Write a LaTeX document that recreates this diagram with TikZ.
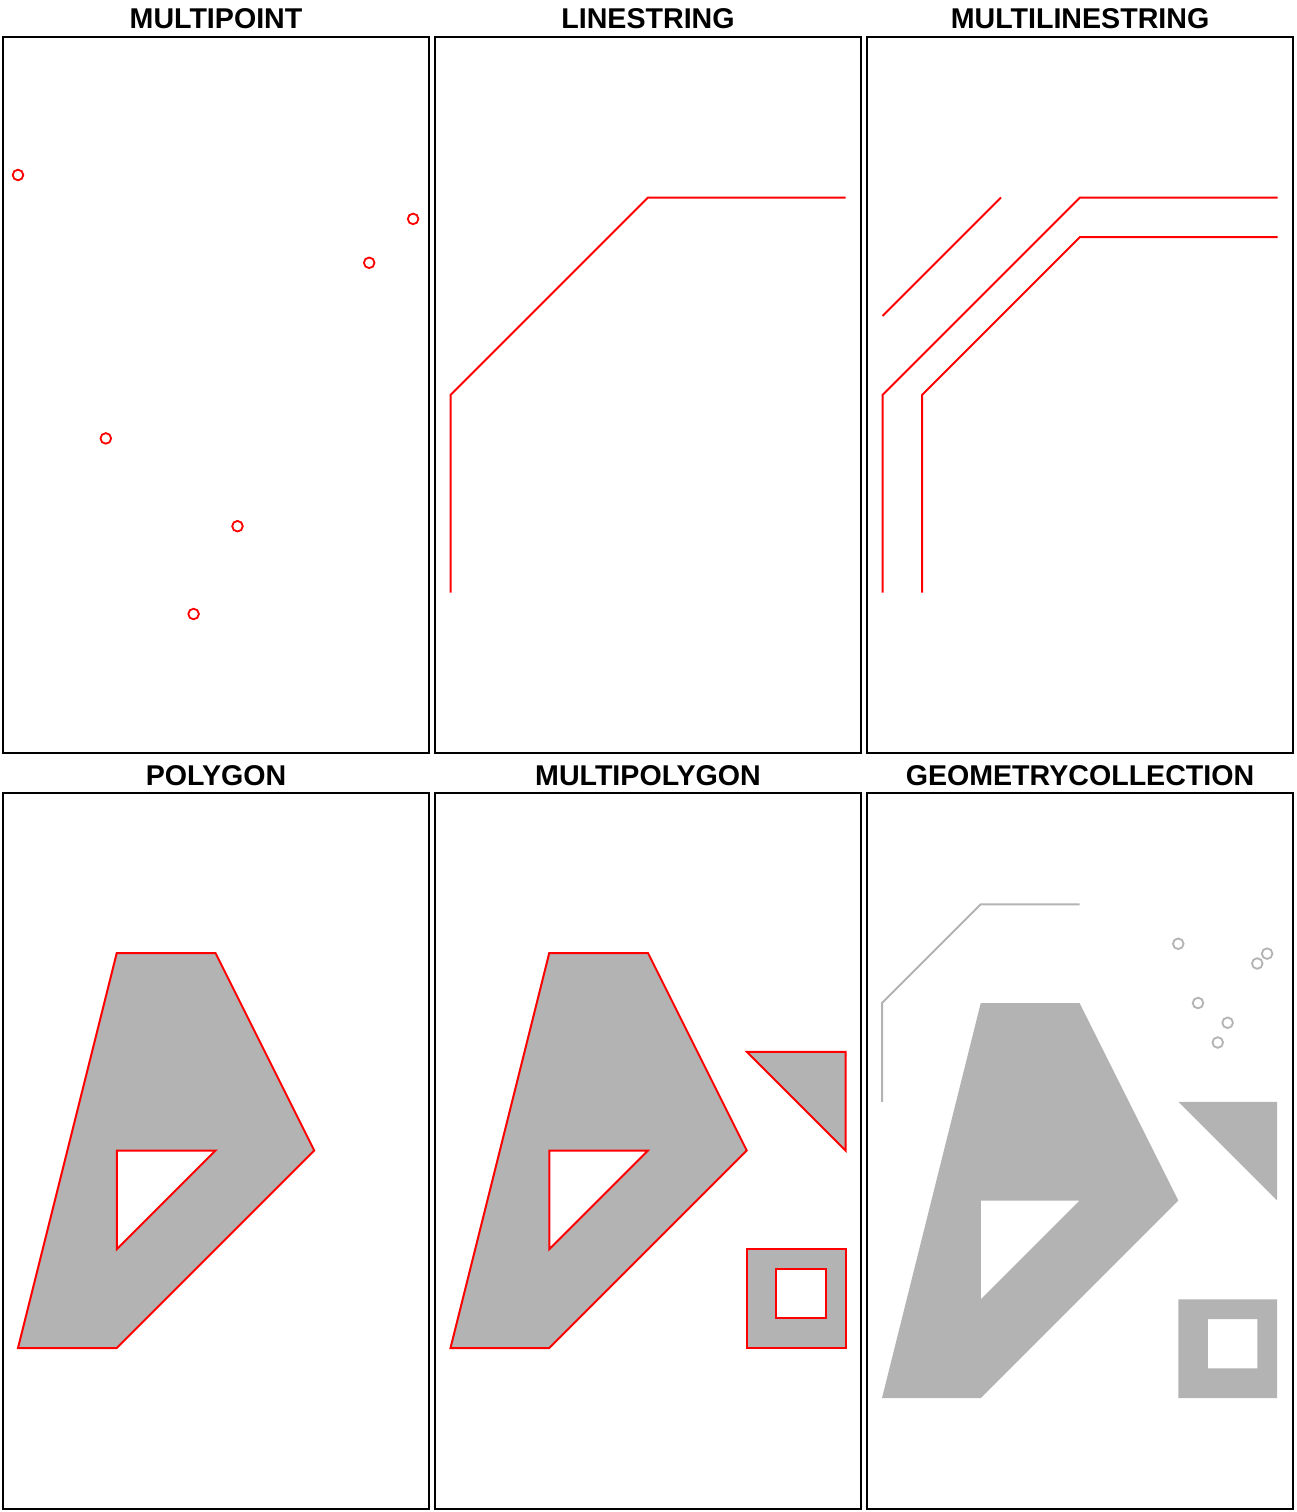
\documentclass[tikz,border=0pt]{standalone}
\usepackage{fontspec}
\setmainfont{Liberation Sans}
\definecolor{gseventy}{RGB}{179,179,179}
\begin{document}
\begin{tikzpicture}[x=1pt,y=-1pt,
  frame/.style={draw=black,line width=2pt},
  paneltitle/.style={font=\fontsize{28.6}{32}\selectfont\bfseries,anchor=base,inner sep=0pt},
  redline/.style={draw=red,line width=2pt,line join=miter},
  greyline/.style={draw=gseventy,line width=2pt},
  redpt/.style={draw=red,line width=1.8pt},
  greypt/.style={draw=gseventy,line width=1.8pt},
  redpoly/.style={draw=red,fill=gseventy,line width=2pt,even odd rule},
  greypoly/.style={fill=gseventy,even odd rule}]
\useasboundingbox (0,0) rectangle (1296,1512);
\fill[white] (0,0) rectangle (1296,1512);

% titles
\node[paneltitle] (t1) at (216,29) {MULTIPOINT};
\node[paneltitle] (t2) at (648,29) {LINESTRING};
\node[paneltitle] (t3) at (1080,29) {MULTILINESTRING};
\node[paneltitle] (t4) at (216,785) {POLYGON};
\node[paneltitle] (t5) at (648,785) {MULTIPOLYGON};
\node[paneltitle] (t6) at (1080,785) {GEOMETRYCOLLECTION};

% frames
\draw[frame] (3,37) rectangle (429,753);
\draw[frame] (435,37) rectangle (861,753);
\draw[frame] (867,37) rectangle (1293,753);
\draw[frame] (3,793) rectangle (429,1509);
\draw[frame] (435,793) rectangle (861,1509);
\draw[frame] (867,793) rectangle (1293,1509);

% MULTIPOINT
\foreach \px/\py in {105.8/438.4, 18/175, 369.2/262.8, 237.5/526.2, 193.6/614, 413.1/218.9}
  \draw[redpt] (\px,\py) circle[radius=5.3pt];

% LINESTRING
\draw[redline] (450.5,592.5) -- (450.5,395) -- (648,197.5) -- (845.5,197.5);

% MULTILINESTRING
\draw[redline] (882.5,592.5) -- (882.5,395) -- (1080,197.5) -- (1277.5,197.5);
\draw[redline] (922,592.5) -- (922,395) -- (1080,237) -- (1277.5,237);
\draw[redline] (882.5,316) -- (1001,197.5);

% POLYGON
\begin{scope}[shift={(18,1348)},x=98.75pt,y=98.75pt]
  \draw[redpoly] (0,0) -- (1,0) -- (3,2) -- (2,4) -- (1,4) -- cycle
                 (1,1) -- (1,2) -- (2,2) -- cycle;
\end{scope}

% MULTIPOLYGON
\begin{scope}[shift={(450.5,1348)},x=98.75pt,y=98.75pt]
  \draw[redpoly] (0,0) -- (1,0) -- (3,2) -- (2,4) -- (1,4) -- cycle
                 (1,1) -- (1,2) -- (2,2) -- cycle;
  \draw[redpoly] (3,0) -- (4,0) -- (4,1) -- (3,1) -- cycle
                 (3.3,0.3) -- (3.8,0.3) -- (3.8,0.8) -- (3.3,0.8) -- cycle;
  \draw[redpoly] (3,3) -- (4,2) -- (4,3) -- cycle;
\end{scope}

% GEOMETRYCOLLECTION
\begin{scope}[shift={(882,1398)},x=98.75pt,y=98.75pt]
  \fill[greypoly] (0,0) -- (1,0) -- (3,2) -- (2,4) -- (1,4) -- cycle
                  (1,1) -- (1,2) -- (2,2) -- cycle;
  \fill[greypoly] (3,0) -- (4,0) -- (4,1) -- (3,1) -- cycle
                  (3.3,0.3) -- (3.8,0.3) -- (3.8,0.8) -- (3.3,0.8) -- cycle;
  \fill[greypoly] (3,3) -- (4,2) -- (4,3) -- cycle;
  \draw[greyline] (0,3) -- (0,4) -- (1,5) -- (2,5);
  \foreach \px/\py in {3.2/4, 3/4.6, 3.8/4.4, 3.5/3.8, 3.4/3.6, 3.9/4.5}
    \draw[greypt] (\px,\py) circle[radius=5.3pt];
\end{scope}
\end{tikzpicture}
\end{document}
